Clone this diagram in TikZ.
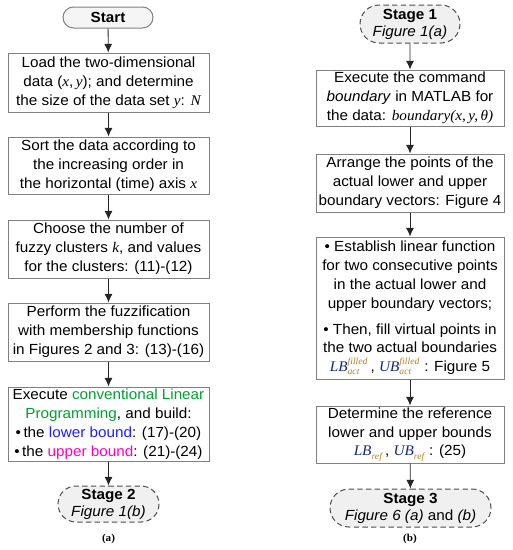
\documentclass[tikz,border=0pt]{standalone}
\usepackage{fontspec}
\setmainfont{Liberation Sans}[FakeStretch=1.04]
\newfontfamily\tms{Liberation Serif}[FakeStretch=1.04]
\usetikzlibrary{arrows.meta,shapes.misc}
\definecolor{bordergray}{RGB}{128,128,128}
\definecolor{lpgreen}{RGB}{0,160,50}
\definecolor{lbblue}{RGB}{30,30,255}
\definecolor{ubmag}{RGB}{255,0,190}
\definecolor{navyb}{RGB}{20,40,120}
\definecolor{scrcol}{RGB}{185,125,30}
\newcommand\mi[1]{{\tms\itshape #1}}
\newcommand\bnd[3]{{\tms\itshape\color{navyb}#1}\ensuremath{^{\mbox{\tms\itshape\scriptsize\color{scrcol}#2}}_{\mbox{\tms\itshape\scriptsize\color{scrcol}#3}}}}
\begin{document}
\begin{tikzpicture}[x=0.75pt,y=-0.75pt,
  every node/.style={font=\fontsize{11}{14.2}\selectfont},
  procbox/.style={draw=bordergray,line width=0.75pt,fill=white,rectangle,inner sep=0pt,align=center},
  lbox/.style={procbox,minimum width=150.75pt},
  rbox/.style={procbox,minimum width=141pt},
  termbox/.style={draw=bordergray,line width=0.75pt,fill=gray!8,rounded rectangle,inner sep=0pt,align=center,font=\fontsize{11}{13}\selectfont\bfseries},
  stagebox/.style={draw=black!70,dashed,dash pattern=on 4pt off 2.5pt,line width=0.75pt,fill=gray!12,rounded rectangle,inner sep=0pt,align=center,font=\fontsize{11}{12.8}\selectfont},
  flow/.style={draw=black!85,line width=0.6pt,-{Latex[length=6.5pt,width=6pt]}},
  captext/.style={font=\tms\bfseries\fontsize{8}{9}\selectfont}
]
\useasboundingbox (0,0) rectangle (513,550);
% left column
\node[termbox,minimum width=67.5pt,minimum height=15.75pt] (start) at (108,17.5) {Start};
\node[lbox,minimum height=44.25pt] (a1) at (108.5,82.5) {Load the two-dimensional\\data (\mi{x},\,\mi{y}); and determine\\the size of the data set \mi{y}: \mi{N}};
\node[lbox,minimum height=42.75pt] (a2) at (108.5,165.5) {Sort the data according to\\the increasing order in\\the horizontal (time) axis \mi{x}};
\node[lbox,minimum height=43.5pt] (a3) at (108.5,249) {Choose the number of\\fuzzy clusters \mi{k}, and values\\for the clusters: (11)-(12)};
\node[lbox,minimum height=43.5pt] (a4) at (108.5,332) {Perform the fuzzification\\with membership functions\\in Figures 2 and 3: (13)-(16)};
\node[lbox,minimum height=55.5pt] (a5) at (108.5,424) {Execute {\color{lpgreen}conventional Linear}\\{\color{lpgreen}Programming}, and build:\\\textbullet\,the {\color{lbblue}lower bound}: (17)-(20)\\\textbullet\,the {\color{ubmag}upper bound}: (21)-(24)};
\node[stagebox,minimum width=75.75pt,minimum height=27pt] (s2) at (108.5,504) {\textbf{Stage 2}\\\textit{Figure 1(b)}};
\node[captext] (capa) at (108.5,539) {(a)};
% right column
\node[stagebox,minimum width=75pt,minimum height=28.5pt] (s1) at (410,24) {\textbf{Stage 1}\\\textit{Figure 1(a)}};
\node[rbox,minimum height=42pt] (b1) at (410,98) {Execute the command\\\textit{boundary} in MATLAB for\\the data: \mi{boundary(x,\,y,\,θ)}};
\node[rbox,minimum height=43.5pt] (b2) at (410,183) {Arrange the points of the\\actual lower and upper\\boundary vectors: Figure 4};
\node[rbox,minimum height=106.5pt] (b3) at (410,308) {\textbullet\ Establish linear function\\for two consecutive points\\in the actual lower and\\upper boundary vectors;\\[5pt]\textbullet\ Then, fill virtual points in\\the two actual boundaries\\\bnd{LB}{filled}{act}\,, \bnd{UB}{filled}{act} : Figure 5};
\node[rbox,minimum height=42.75pt] (b4) at (410,434.5) {Determine the reference\\lower and upper bounds\\\bnd{LB}{}{ref}\,, \bnd{UB}{}{ref} : (25)};
\node[stagebox,minimum width=120.75pt,minimum height=28.5pt] (s3) at (410.5,508) {\textbf{Stage 3}\\\textit{Figure 6 (a)} and \textit{(b)}};
\node[captext] (capb) at (410,539) {(b)};
% connectors
\draw[flow] (start) -- (a1);
\draw[flow] (a1) -- (a2);
\draw[flow] (a2) -- (a3);
\draw[flow] (a3) -- (a4);
\draw[flow] (a4) -- (a5);
\draw[flow] (a5) -- (s2);
\draw[flow] (s1) -- (b1);
\draw[flow] (b1) -- (b2);
\draw[flow] (b2) -- (b3);
\draw[flow] (b3) -- (b4);
\draw[flow] (b4) -- (s3);
\end{tikzpicture}
\end{document}
